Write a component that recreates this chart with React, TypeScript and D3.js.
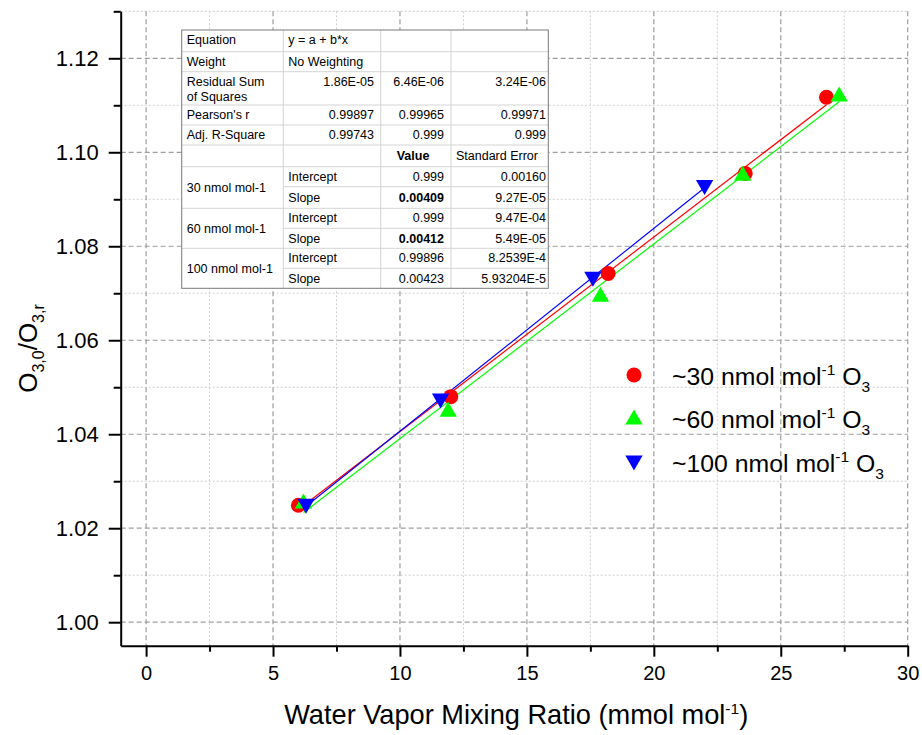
import React, { useEffect, useRef } from "react";
import * as d3 from "d3";

const x30 = [6.0, 12.0, 18.2, 23.6, 26.8];
const y30 = [1.0249, 1.048, 1.0742, 1.0955, 1.1117];
const x60 = [6.2, 11.9, 17.9, 23.5, 27.3];
const y60 = [1.0256, 1.0451, 1.0696, 1.0953, 1.1122];
const x100 = [6.3, 11.6, 17.6, 22.0];
const y100 = [1.0249, 1.0473, 1.0732, 1.0927];

const seriesNames = ["~30", "~60", "~100"];
const seriesColors = ["#ff0000", "#00ff00", "#0000ff"];

const xTicks = [0, 5, 10, 15, 20, 25, 30];
const xMinor = [2.5, 7.5, 12.5, 17.5, 22.5, 27.5];
const yTicks = [1.0, 1.02, 1.04, 1.06, 1.08, 1.1, 1.12];
const yMinor = [1.01, 1.03, 1.05, 1.07, 1.09, 1.11, 1.13];

// fit table text
const statLabels = ["Equation", "Weight", "Residual Sum|of Squares", "Pearson's r", "Adj. R-Square"];
const statValues = [
  ["y = a + b*x"],
  ["No Weighting"],
  ["1.86E-05", "6.46E-06", "3.24E-06"],
  ["0.99897", "0.99965", "0.99971"],
  ["0.99743", "0.999", "0.999"],
];
const groupLabels = ["30 nmol mol-1", "60 nmol mol-1", "100 nmol mol-1"];
const interceptVals = ["0.999", "0.999", "0.99896"];
const interceptErr = ["0.00160", "9.47E-04", "8.2539E-4"];
const slopeVals = ["0.00409", "0.00412", "0.00423"];
const slopeErr = ["9.27E-05", "5.49E-05", "5.93204E-5"];
const slopeBold = [true, true, false];

const FONT = "'Liberation Sans', Arial, sans-serif";

const width = 922;
const height = 735;
const left = 120.7, right = 907.7, top = 11.3, bottom = 645.7;

const fit = (xs: number[], ys: number[]) => {
  const mx = d3.mean(xs) as number;
  const my = d3.mean(ys) as number;
  const b = d3.sum(xs, (x, i) => (x - mx) * (ys[i] - my)) / d3.sum(xs, (x) => (x - mx) ** 2);
  return { a: my - b * mx, b };
};

const App = () => {
  const xAxisRef = useRef<SVGGElement>(null);
  const yAxisRef = useRef<SVGGElement>(null);

  const xScale = d3.scaleLinear().domain([-1, 30]).range([left, right]);
  const yScale = d3.scaleLinear().domain([0.995, 1.13]).range([bottom, top]);

  const series = [
    { xs: x30, ys: y30 },
    { xs: x60, ys: y60 },
    { xs: x100, ys: y100 },
  ];

  useEffect(() => {
    const gx = d3.select(xAxisRef.current);
    gx.selectAll("*").remove();
    gx.append("g").call(
      d3.axisBottom(xScale).tickValues(xTicks).tickSize(11).tickSizeOuter(0).tickPadding(9).tickFormat(d3.format("d"))
    );
    gx.append("g").call(d3.axisBottom(xScale).tickValues(xMinor).tickSize(6).tickFormat(() => ""))
      .select(".domain").remove();
    gx.selectAll("path, line").attr("stroke", "#000").attr("stroke-width", 2);
    gx.selectAll("text").attr("font-family", FONT).attr("font-size", 20).attr("fill", "#000");

    const gy = d3.select(yAxisRef.current);
    gy.selectAll("*").remove();
    gy.append("g").call(
      d3.axisLeft(yScale).tickValues(yTicks).tickSize(12).tickSizeOuter(0).tickPadding(10).tickFormat(d3.format(".2f"))
    );
    gy.append("g").call(d3.axisLeft(yScale).tickValues(yMinor).tickSize(7).tickFormat(() => ""))
      .select(".domain").remove();
    gy.selectAll("path, line").attr("stroke", "#000").attr("stroke-width", 2);
    gy.selectAll("text").attr("font-family", FONT).attr("font-size", 22).attr("fill", "#000");
  }, []);

  const line = d3.line<number>().x((d) => xScale(d[0])).y((d) => yScale(d[1]));

  const marker = (i: number, cx: number, cy: number, key: string) => {
    if (i === 0) return <circle key={key} cx={cx} cy={cy} r={7.5} fill={seriesColors[0]} />;
    const tri = d3.symbol(d3.symbolTriangle, 130)() as string;
    return (
      <path key={key} d={tri} fill={seriesColors[i]}
        transform={`translate(${cx},${cy + (i === 1 ? 1.5 : -1.5)}) rotate(${i === 2 ? 180 : 0})`} />
    );
  };

  // table geometry
  const tx = [181.7, 283.3, 380.7, 451, 548.3];
  const ty = [30, 51.7, 71.7, 105, 125, 145, 166.7, 186.7, 208.3, 228.3, 248.3, 268.3, 288.3];
  const rightX = [374, 444, 546];

  return (
    <div style={{ position: "fixed", left: 0, top: 0 }}>
      <svg width={width} height={height} style={{ display: "block", background: "#fff" }}>
        {/* grid */}
        <g>
          {xMinor.map((v) => (
            <line key={"xm" + v} x1={xScale(v)} x2={xScale(v)} y1={top} y2={bottom}
              stroke="#cfcfcf" strokeWidth={1} strokeDasharray="2,2" />
          ))}
          {yMinor.map((v) => (
            <line key={"ym" + v} x1={left} x2={right} y1={yScale(v)} y2={yScale(v)}
              stroke="#cfcfcf" strokeWidth={1} strokeDasharray="2,2" />
          ))}
          {xTicks.map((v) => (
            <line key={"xg" + v} x1={xScale(v)} x2={xScale(v)} y1={top} y2={bottom}
              stroke="#9d9d9d" strokeWidth={1.2} strokeDasharray="5,3" />
          ))}
          {yTicks.map((v) => (
            <line key={"yg" + v} x1={left} x2={right} y1={yScale(v)} y2={yScale(v)}
              stroke="#9d9d9d" strokeWidth={1.2} strokeDasharray="5,3" />
          ))}
        </g>

        {/* fit lines */}
        {series.map((s, i) => {
          const f = fit(s.xs, s.ys);
          const x0 = d3.min(s.xs) as number;
          const x1 = d3.max(s.xs) as number;
          return (
            <path key={"fit" + i} d={line([[x0, f.a + f.b * x0], [x1, f.a + f.b * x1]] as any) as string}
              stroke={seriesColors[i]} strokeWidth={1.2} fill="none" />
          );
        })}

        {/* points */}
        {series.map((s, i) => s.xs.map((x, j) => marker(i, xScale(x), yScale(s.ys[j]), `p${i}-${j}`)))}

        <g ref={xAxisRef} transform={`translate(0,${bottom})`} />
        <g ref={yAxisRef} transform={`translate(${left},0)`} />

        {/* axis titles */}
        <text x={(left + right) / 2 + 2} y={724} textAnchor="middle" fontFamily={FONT} fontSize={27.2}>
          Water Vapor Mixing Ratio (mmol mol
          <tspan dy={-10} fontSize={15.5}>-1</tspan>
          <tspan dy={10}>)</tspan>
        </text>
        <text transform={`translate(37,${(top + bottom) / 2 + 20}) rotate(-90)`} textAnchor="middle"
          fontFamily={FONT} fontSize={26}>
          O<tspan dy={7} fontSize={16}>3,0</tspan>
          <tspan dy={-7}>/O</tspan>
          <tspan dy={7} fontSize={16}>3,r</tspan>
        </text>

        {/* legend */}
        {seriesNames.map((name, i) => {
          const cy = [375, 418, 462][i];
          return (
            <g key={"lg" + i}>
              {marker(i, 634, cy, "lm" + i)}
              <text x={672} y={cy + 10} fontFamily={FONT} fontSize={24.8}>
                {name} nmol mol
                <tspan dy={-10} fontSize={15.5}>-1</tspan>
                <tspan dy={10}> O</tspan>
                <tspan dy={7} fontSize={15.5}>3</tspan>
              </text>
            </g>
          );
        })}

        {/* fit table */}
        <g fontFamily={FONT} fontSize={12.5} fill="#000">
          <rect x={tx[0]} y={ty[0]} width={tx[4] - tx[0]} height={ty[12] - ty[0]} fill="#fff" />
          {ty.slice(1, 12).map((y, k) => {
            const partial = k === 6 || k === 8 || k === 10;
            return <line key={"tr" + k} x1={partial ? tx[1] : tx[0]} x2={tx[4]} y1={y} y2={y} stroke="#d4d4d4" />;
          })}
          {tx.slice(1, 4).map((x, k) => (
            <line key={"tc" + k} x1={x} x2={x} y1={ty[0]} y2={ty[12]} stroke="#d4d4d4" />
          ))}
          <rect x={tx[0]} y={ty[0]} width={tx[4] - tx[0]} height={ty[12] - ty[0]} fill="none" stroke="#7a7a7a" />

          {statLabels.map((lab, r) => {
            const parts = lab.split("|");
            return (
              <text key={"sl" + r} x={186.7} y={ty[r] + 14}>
                {parts.map((p, k) => (
                  <tspan key={k} x={186.7} dy={k === 0 ? 0 : 15}>{p}</tspan>
                ))}
              </text>
            );
          })}
          {statValues.map((vals, r) =>
            vals.length === 1 ? (
              <text key={"sv" + r} x={288.3} y={ty[r] + 14}>{vals[0]}</text>
            ) : (
              vals.map((v, c) => (
                <text key={"sv" + r + c} x={rightX[c]} y={ty[r] + 14} textAnchor="end">{v}</text>
              ))
            )
          )}
          <text x={396.7} y={ty[5] + 15} fontWeight="bold">Value</text>
          <text x={456} y={ty[5] + 15}>Standard Error</text>
          {groupLabels.map((g, k) => {
            const r = 6 + k * 2;
            return (
              <g key={"gr" + k}>
                <text x={186.7} y={(ty[r] + ty[r + 2]) / 2 + 4.5}>{g}</text>
                <text x={288.3} y={ty[r] + 14}>Intercept</text>
                <text x={rightX[1]} y={ty[r] + 14} textAnchor="end">{interceptVals[k]}</text>
                <text x={rightX[2]} y={ty[r] + 14} textAnchor="end">{interceptErr[k]}</text>
                <text x={288.3} y={ty[r + 1] + 15}>Slope</text>
                <text x={rightX[1]} y={ty[r + 1] + 15} textAnchor="end" fontWeight={slopeBold[k] ? "bold" : "normal"}>
                  {slopeVals[k]}
                </text>
                <text x={rightX[2]} y={ty[r + 1] + 15} textAnchor="end">{slopeErr[k]}</text>
              </g>
            );
          })}
        </g>
      </svg>
    </div>
  );
};

export default App;
